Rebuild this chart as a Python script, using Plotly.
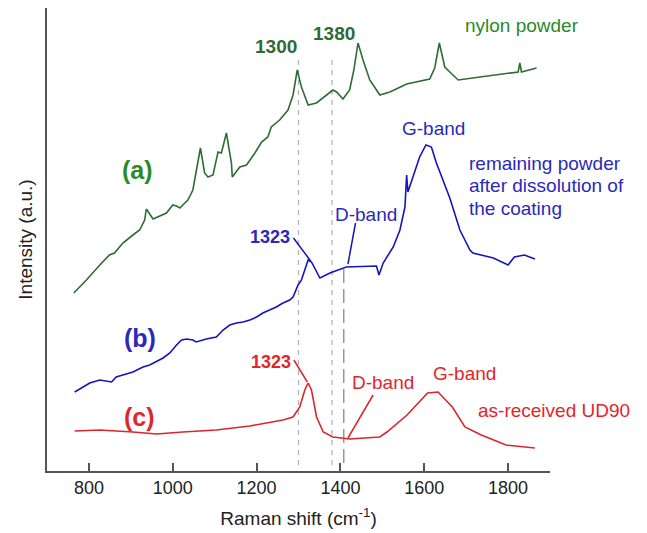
import plotly.graph_objects as go

# ---------------- data ----------------
a_x = [764, 794, 826, 849, 861, 881, 905, 921, 933, 937, 953, 969, 985, 1000, 1009, 1017, 1036,
       1048, 1056, 1066, 1076, 1084, 1096, 1108, 1116, 1128, 1140, 1142, 1160, 1176, 1196, 1212,
       1227, 1235, 1255, 1275, 1287, 1297, 1307, 1323, 1343, 1367, 1382, 1391, 1406, 1422, 1432,
       1442, 1454, 1470, 1494, 1518, 1558, 1613, 1625, 1636, 1649, 1661, 1681, 1733, 1772, 1824,
       1828, 1832, 1868]
a_y = [178, 191, 206, 216, 218, 228, 236, 241, 251, 262, 252, 255, 258, 266, 265, 263, 271,
       281, 298, 323, 298, 294, 296, 319, 318, 338, 308, 294, 304, 306, 318, 329,
       334, 344, 351, 361, 376, 401, 384, 366, 368, 376, 381, 379, 372, 381, 401,
       428, 411, 391, 376, 379, 387, 392, 403, 428, 404, 399, 391, 394, 396, 399,
       408, 399, 403]

b_x = [766, 786, 802, 826, 854, 865, 905, 929, 945, 977, 993, 1009, 1021, 1033, 1048, 1056, 1080,
       1104, 1120, 1136, 1152, 1168, 1184, 1200, 1215, 1231, 1247, 1263, 1279, 1287, 1299, 1307,
       1323, 1331, 1351, 1375, 1414, 1486, 1492, 1502, 1526, 1542, 1554, 1558, 1561, 1573, 1589,
       1604, 1617, 1629, 1645, 1661, 1685, 1709, 1716, 1765, 1800, 1815, 1839, 1864]
b_y = [79, 84, 88, 91, 89, 94, 99, 104, 106, 113, 118, 126, 131, 132, 131, 129, 132,
       134, 141, 146, 148, 149, 151, 154, 158, 161, 164, 168, 171, 174, 186, 191,
       211, 209, 193, 198, 204, 205, 196, 208, 224, 241, 264, 296, 279, 294, 314,
       326, 324, 308, 291, 273, 241, 221, 218, 213, 206, 214, 216, 212]

c_x = [766, 826, 905, 961, 1024, 1104, 1184, 1263, 1287, 1303, 1315, 1323, 1331, 1343, 1359,
       1382, 1422, 1494, 1511, 1559, 1608, 1633, 1667, 1697, 1736, 1795, 1864]
c_y = [40, 41, 39, 37, 39, 41, 45, 51, 54, 64, 81, 88, 81, 54, 39,
       34, 32, 34, 39, 56, 78, 79, 64, 44, 36, 26, 23]

x_ticks = [800, 1000, 1200, 1400, 1600, 1800]
ref_lines = [1300, 1380]
dband_line = 1408

GREEN = "#2f6b34"
GREEN_T = "#2a8a2a"
BLUE = "#1414c0"
BLUE_T = "#2a2ab8"
RED = "#d8262e"
RED_T = "#e2252b"
FONT = "Arial, Liberation Sans, sans-serif"

fig = go.Figure()

# reference dashed lines
for xv, y1 in zip(ref_lines, [411, 416]):
    fig.add_trace(go.Scatter(x=[xv, xv], y=[6, y1], mode="lines",
                             line=dict(color="#b4b4b4", width=1.3, dash="5px,5px"),
                             showlegend=False, hoverinfo="skip"))
fig.add_trace(go.Scatter(x=[dband_line, dband_line], y=[8, 204], mode="lines",
                         line=dict(color="#8a8a8a", width=1.3, dash="14px,6px"),
                         showlegend=False, hoverinfo="skip"))

fig.add_trace(go.Scatter(x=a_x, y=a_y, mode="lines", line=dict(color=GREEN, width=1.6),
                         showlegend=False))
fig.add_trace(go.Scatter(x=b_x, y=b_y, mode="lines", line=dict(color=BLUE, width=1.6),
                         showlegend=False))
fig.add_trace(go.Scatter(x=c_x, y=c_y, mode="lines", line=dict(color=RED, width=1.6),
                         showlegend=False))

# leader lines
leaders = [
    (1288, 233, 1329, 210, BLUE),
    (1436, 248, 1418, 207, BLUE),
    (1289, 111, 1321, 89, RED),
    (1478, 76, 1418, 33, RED),
]
for x0, y0, x1, y1, col in leaders:
    fig.add_shape(type="line", x0=x0, y0=y0, x1=x1, y1=y1, xref="x", yref="y",
                  line=dict(color=col, width=1.5))

def ann(x, y, text, color, size=19, bold=False, xanchor="center"):
    t = f"<b>{text}</b>" if bold else text
    fig.add_annotation(x=x, y=y, xref="x", yref="y", text=t, showarrow=False,
                       xanchor=xanchor, yanchor="middle",
                       font=dict(family=FONT, size=size, color=color))

ann(1246, 425, "1300", GREEN, 19, True)
ann(1384, 438, "1380", GREEN, 19, True)
ann(1834, 446, "nylon powder", GREEN_T, 19)
ann(917, 301, "(a)", GREEN_T, 25, True)
ann(921, 133, "(b)", BLUE_T, 25, True)
ann(921, 54, "(c)", RED_T, 25, True)

ann(1233, 234, "1323", BLUE_T, 18, True)
ann(1460, 257, "D-band", BLUE_T, 19)
ann(1621, 343, "G-band", BLUE_T, 19)
ann(1702, 308, "remaining powder", BLUE_T, 19, xanchor="left")
ann(1702, 286, "after dissolution of", BLUE_T, 19, xanchor="left")
ann(1702, 263, "the coating", BLUE_T, 19, xanchor="left")

ann(1235, 109, "1323", RED_T, 18, True)
ann(1502, 89, "D-band", RED_T, 19)
ann(1697, 98, "G-band", RED_T, 19)
ann(1724, 61, "as-received UD90", RED_T, 19, xanchor="left")

fig.update_layout(
    width=647, height=533,
    margin=dict(l=47, r=97, t=8, b=62),
    paper_bgcolor="white", plot_bgcolor="white",
    font=dict(family=FONT, size=18, color="#222"),
    xaxis=dict(range=[700, 1900], tickvals=x_ticks, ticks="inside", ticklen=8,
               tickwidth=1.5, tickcolor="#555", showline=True, linecolor="#555",
               linewidth=1.5, showgrid=False, zeroline=False,
               tickfont=dict(size=18, color="#222"),
               title=dict(text="Raman shift (cm<sup>-1</sup>)", standoff=14,
                          font=dict(size=19, color="#222"))),
    yaxis=dict(range=[0, 463], showticklabels=False, ticks="", showline=True,
               linecolor="#555", linewidth=1.5, showgrid=False, zeroline=False,
               title=dict(text="Intensity (a.u.)", standoff=8,
                          font=dict(size=19, color="#222"))),
)

fig.write_html("out.html")
